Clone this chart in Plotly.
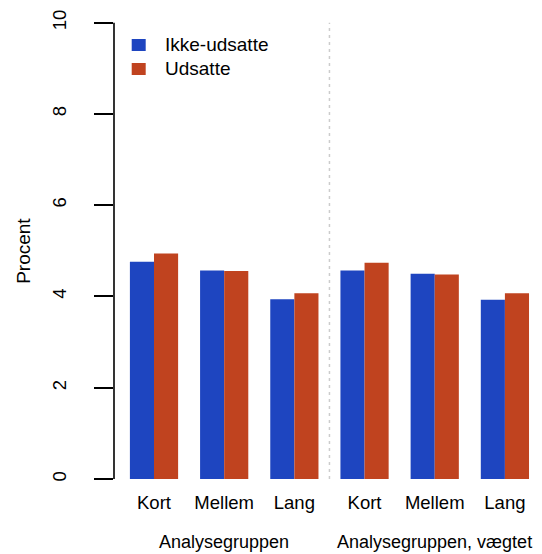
import plotly.graph_objects as go

categories = ["Kort", "Mellem", "Lang", "Kort ", "Mellem ", "Lang "]
tick_text = ["Kort", "Mellem", "Lang", "Kort", "Mellem", "Lang"]
ikke_udsatte = [4.76, 4.57, 3.94, 4.57, 4.50, 3.93]
udsatte = [4.94, 4.56, 4.07, 4.74, 4.48, 4.07]
series_names = ["Ikke-udsatte", "Udsatte"]
group_labels = ["Analysegruppen", "Analysegruppen, vægtet"]
y_title = "Procent"
y_ticks = [0, 2, 4, 6, 8, 10]

BLUE = "#1E45C0"
RED = "#C0431F"
FONT = "Liberation Sans, Arial, sans-serif"

W, H = 534, 546          # page body has an 8px margin
ML, MR, MT, MB = 106, 2, 0, 75
PW, PH = W - ML - MR, H - MT - MB

fig = go.Figure()
fig.add_trace(go.Bar(x=categories, y=ikke_udsatte, name=series_names[0],
                     marker=dict(color=BLUE, line=dict(width=0))))
fig.add_trace(go.Bar(x=categories, y=udsatte, name=series_names[1],
                     marker=dict(color=RED, line=dict(width=0))))

fig.update_layout(
    width=W, height=H,
    margin=dict(l=ML, r=MR, t=MT, b=MB),
    paper_bgcolor="white", plot_bgcolor="white",
    barmode="group", bargap=0.313, bargroupgap=0,
    font=dict(family=FONT, size=19, color="black"),
    showlegend=False,
    xaxis=dict(type="category", range=[-0.57, 5.5], showgrid=False,
               showline=False, zeroline=False, ticks="",
               tickvals=categories, ticktext=tick_text,
               tickfont=dict(size=18.5), ticklabelstandoff=10),
    yaxis=dict(range=[0, 10.322], showgrid=False, showline=False, zeroline=False,
               tickvals=y_ticks, ticks="outside", ticklen=19, tickwidth=1.6,
               tickcolor="black", tickangle=-90, tickfont=dict(size=18.5),
               ticklabelstandoff=21),
)

# y axis title
fig.add_annotation(x=-(ML - 16) / PW, xref="paper", y=5, yref="y",
                   xanchor="center", yanchor="middle", textangle=-90,
                   text=y_title, showarrow=False, font=dict(size=19))

# y axis line spanning 0..10 like R
fig.add_shape(type="line", xref="paper", yref="y", x0=0, x1=0,
              y0=y_ticks[0], y1=y_ticks[-1], line=dict(color="black", width=1.6))
# divider between the two groups
fig.add_shape(type="line", xref="x", yref="y", x0=2.5, x1=2.5,
              y0=y_ticks[0], y1=y_ticks[-1],
              line=dict(color="#cccccc", width=1.5, dash="3px,4px"))

# group labels
for xc, lab in zip([1, 4], group_labels):
    fig.add_annotation(x=xc, xref="x", y=0, yref="paper", yanchor="middle",
                       yshift=-63, text=lab, showarrow=False, font=dict(size=18))

# legend (R-style)
for i, (name, col) in enumerate(zip(series_names, [BLUE, RED])):
    top = 31 + 24 * i
    fig.add_shape(type="rect", xref="paper", yref="paper",
                  x0=17.7 / PW, x1=31.7 / PW,
                  y0=1 - top / PH, y1=1 - (top + 12) / PH,
                  fillcolor=col, line=dict(width=0))
    fig.add_annotation(x=49 / PW, xref="paper", y=1 - (top + 6) / PH, yref="paper",
                       xanchor="left", yanchor="middle", text=name,
                       showarrow=False, font=dict(size=19))

fig.write_html("out.html")
